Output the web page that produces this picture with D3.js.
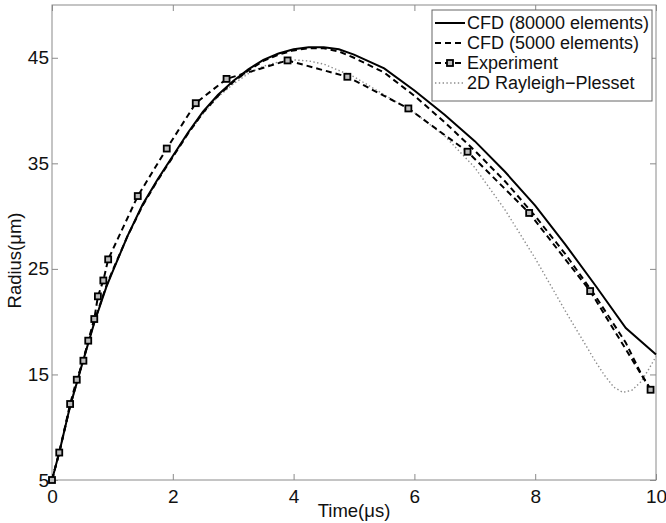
<!DOCTYPE html>
<html>
<head>
<meta charset="utf-8">
<script src="https://cdn.jsdelivr.net/npm/d3@7"></script>
<style>
  body { margin: 0; background: #fff; }
  text { font-family: "Liberation Sans", Arial, sans-serif; fill: #111; }
</style>
</head>
<body>
<div id="container"></div>
<script>
// data (time in us, radius in um)
var fineT = [0, 0.12, 0.3, 0.5, 0.7, 0.9, 1.0, 1.25, 1.5, 1.75, 2.0, 2.25, 2.5, 2.75, 3.0, 3.25, 3.5, 3.75, 4.0, 4.25, 4.5, 4.75, 5.0, 5.5, 6.0, 6.5, 7.0, 7.5, 8.0, 8.5, 9.0, 9.5, 10];
var fineR = [5, 7.6, 12.0, 16.0, 19.9, 23.3, 24.7, 28.1, 31.1, 33.5, 35.7, 37.9, 39.9, 41.5, 42.8, 43.9, 44.8, 45.4, 45.8, 46.0, 46.0, 45.8, 45.3, 44.0, 41.9, 39.6, 37.1, 34.2, 31.0, 27.3, 23.4, 19.4, 16.9];

var coarseT = [0, 0.12, 0.3, 0.5, 0.7, 0.9, 1.0, 1.25, 1.5, 1.75, 2.0, 2.25, 2.5, 2.75, 3.0, 3.25, 3.5, 3.75, 4.0, 4.25, 4.5, 4.75, 5.0, 5.5, 6.0, 6.5, 7.0, 7.5, 8.0, 8.5, 9.0, 9.5, 9.75, 9.92];
var coarseR = [5, 7.6, 12.0, 16.1, 20.0, 23.4, 24.8, 28.1, 31.0, 33.4, 35.6, 37.8, 39.8, 41.4, 42.7, 43.8, 44.7, 45.3, 45.7, 45.9, 45.9, 45.6, 45.0, 43.6, 41.4, 38.9, 36.2, 33.3, 30.0, 26.4, 22.4, 18.0, 15.1, 13.5];

var expT = [0, 0.12, 0.3, 0.41, 0.52, 0.6, 0.7, 0.76, 0.85, 0.93, 1.42, 1.9, 2.38, 2.89, 3.9, 4.89, 5.9, 6.88, 7.9, 8.91, 9.91];
var expR = [5, 7.6, 12.2, 14.5, 16.3, 18.2, 20.25, 22.4, 23.9, 25.9, 31.9, 36.4, 40.7, 43.0, 44.75, 43.2, 40.2, 36.1, 30.3, 22.9, 13.55];

var rpT = [0, 0.12, 0.3, 0.5, 0.7, 0.9, 1.0, 1.25, 1.5, 1.75, 2.0, 2.25, 2.5, 2.75, 3.0, 3.25, 3.5, 3.75, 4.0, 4.25, 4.5, 5.0, 5.5, 6.0, 6.5, 7.0, 7.5, 8.0, 8.5, 8.75, 9.0, 9.15, 9.3, 9.45, 9.6, 9.75, 9.88, 10];
var rpR = [5, 7.6, 12.0, 16.0, 19.9, 23.3, 24.7, 28.1, 31.0, 33.4, 35.6, 37.8, 39.7, 41.3, 42.5, 43.5, 44.2, 44.6, 44.8, 44.7, 44.4, 43.2, 41.5, 39.8, 37.6, 34.6, 30.6, 26.0, 21.0, 18.6, 16.2, 14.9, 13.8, 13.3, 13.5, 14.3, 15.5, 16.7];

var xTicks = [0, 2, 4, 6, 8, 10];
var yTicks = [5, 15, 25, 35, 45];
var legendNames = ["CFD (80000 elements)", "CFD (5000 elements)", "Experiment", "2D Rayleigh\u2212Plesset"];

var W = 666, H = 523;
var margin = {top: 5, right: 10, bottom: 43, left: 52},
    width = W - margin.left - margin.right,
    height = H - margin.top - margin.bottom;

var svg = d3.select("#container")
  .append("svg")
    .attr("width", W)
    .attr("height", H)
  .append("g")
    .attr("transform", "translate(" + margin.left + "," + margin.top + ")");

var x = d3.scaleLinear().domain([0, 10]).range([0, width]);
var y = d3.scaleLinear().domain([5, 50]).range([height, 0]);

function zip(ts, rs) {
  return ts.map(function(t, i) { return {t: t, r: rs[i]}; });
}

var line = d3.line()
  .x(d => x(d.t))
  .y(d => y(d.r));

// axes, matlab style: ticks inside on all sides
var frameColor = "#8a8a8a";
svg.append("g")
  .attr("transform", "translate(0," + height + ")")
  .call(d3.axisBottom(x).tickValues(xTicks).tickSize(-6).tickPadding(9).tickFormat(d3.format("d")))
  .call(g => g.select(".domain").remove())
  .call(g => g.selectAll("line").attr("stroke", frameColor))
  .selectAll("text")
    .style("font-size", "19px")
    .attr("dy", "0.72em");

svg.append("g")
  .call(d3.axisTop(x).tickValues(xTicks).tickSize(-6).tickFormat(""))
  .call(g => g.select(".domain").remove())
  .call(g => g.selectAll("line").attr("stroke", frameColor));

svg.append("g")
  .call(d3.axisLeft(y).tickValues(yTicks).tickSize(-6).tickPadding(3))
  .call(g => g.select(".domain").remove())
  .call(g => g.selectAll("line").attr("stroke", frameColor))
  .selectAll("text")
    .style("font-size", "19px");

svg.append("g")
  .attr("transform", "translate(" + width + ",0)")
  .call(d3.axisRight(y).tickValues(yTicks).tickSize(-6).tickFormat(""))
  .call(g => g.select(".domain").remove())
  .call(g => g.selectAll("line").attr("stroke", frameColor));

svg.append("rect")
  .attr("width", width)
  .attr("height", height)
  .attr("fill", "none")
  .attr("stroke", frameColor)
  .attr("stroke-width", 1);

// series
svg.append("path")
  .datum(zip(rpT, rpR))
  .attr("d", line)
  .attr("fill", "none")
  .attr("stroke", "#8c8c8c")
  .attr("stroke-width", 1.4)
  .attr("stroke-dasharray", "1.4,2.4");

svg.append("path")
  .datum(zip(fineT, fineR))
  .attr("d", line)
  .attr("fill", "none")
  .attr("stroke", "#000")
  .attr("stroke-width", 2);

svg.append("path")
  .datum(zip(coarseT, coarseR))
  .attr("d", line)
  .attr("fill", "none")
  .attr("stroke", "#000")
  .attr("stroke-width", 2)
  .attr("stroke-dasharray", "6,4");

var expData = zip(expT, expR);
svg.append("path")
  .datum(expData)
  .attr("d", line)
  .attr("fill", "none")
  .attr("stroke", "#000")
  .attr("stroke-width", 2)
  .attr("stroke-dasharray", "6,4");

svg.append("g")
  .selectAll("rect")
  .data(expData)
  .enter()
  .append("rect")
    .attr("x", d => x(d.t) - 3)
    .attr("y", d => y(d.r) - 3)
    .attr("width", 6)
    .attr("height", 6)
    .attr("fill", "#bbb")
    .attr("stroke", "#000")
    .attr("stroke-width", 1.8);

// legend
var lg = svg.append("g").attr("transform", "translate(380,5)");
lg.append("rect")
  .attr("width", 220)
  .attr("height", 91)
  .attr("fill", "#fff")
  .attr("stroke", "#666")
  .attr("stroke-width", 1);

var styles = [
  {stroke: "#000", dash: null, w: 2},
  {stroke: "#000", dash: "6,4", w: 2},
  {stroke: "#000", dash: "6,4", w: 2},
  {stroke: "#8c8c8c", dash: "1.4,2.4", w: 1.4}
];
legendNames.forEach(function(name, i) {
  var yy = 13 + i * 20;
  lg.append("line")
    .attr("x1", 3).attr("x2", 33)
    .attr("y1", yy).attr("y2", yy)
    .attr("stroke", styles[i].stroke)
    .attr("stroke-width", styles[i].w)
    .attr("stroke-dasharray", styles[i].dash);
  if (i == 2) {
    lg.append("rect")
      .attr("x", 15).attr("y", yy - 3)
      .attr("width", 6).attr("height", 6)
      .attr("fill", "#bbb").attr("stroke", "#000").attr("stroke-width", 1.8);
  }
  lg.append("text")
    .attr("x", 35)
    .attr("y", yy)
    .attr("dy", "0.35em")
    .style("font-size", "18px")
    .text(name);
});

// axis labels
svg.append("text")
  .attr("text-anchor", "middle")
  .attr("x", width / 2)
  .attr("y", height + 37)
  .style("font-size", "18.5px")
  .text("Time(\u03bcs)");

svg.append("text")
  .attr("text-anchor", "middle")
  .attr("transform", "translate(-31," + (height / 2 + 18) + ") rotate(-90)")
  .style("font-size", "18.5px")
  .text("Radius(\u03bcm)");
</script>
</body>
</html>
